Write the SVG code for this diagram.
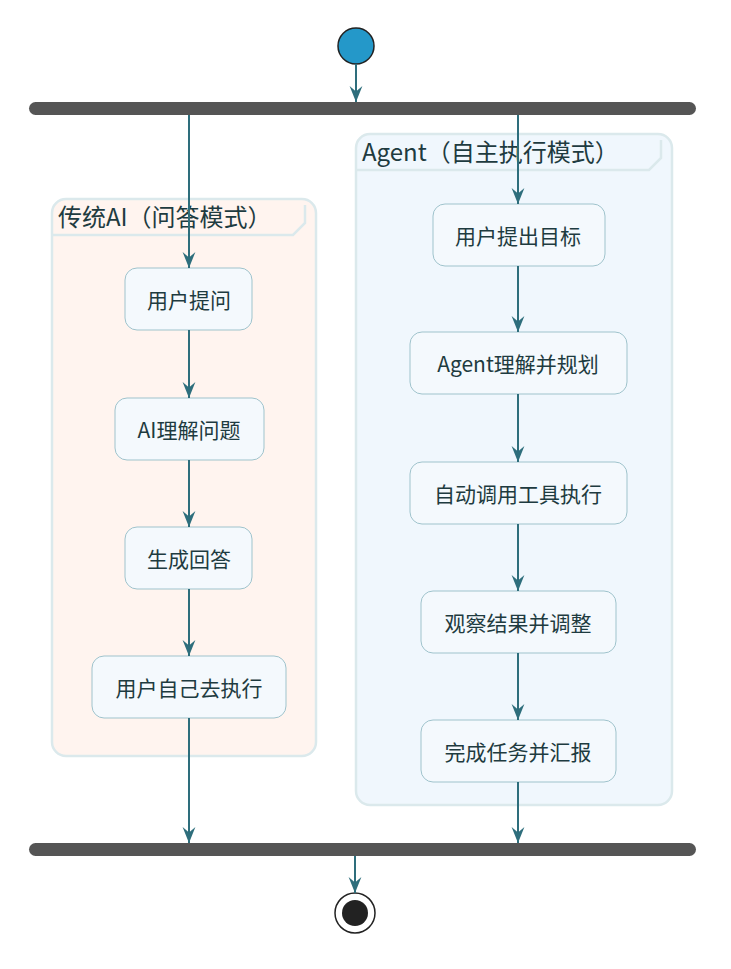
<svg xmlns="http://www.w3.org/2000/svg" width="731" height="969" viewBox="0 0 731 969">
<style>
.bar{fill:#555555}
.node rect{fill:#f4f9fd;stroke:#9fc3cc;stroke-width:1}
.node text,.title{font-family:"Noto Sans CJK SC","Noto Sans",sans-serif;fill:#1e3b40}
.node text{font-size:21px;text-anchor:middle;dominant-baseline:central}
.title{font-size:24px}
.edge{stroke:#2e6e7c;stroke-width:2;fill:none;marker-end:url(#ah2)}
.part{stroke:#dbe9ec;stroke-width:2.5}
</style>
<defs>
<marker id="ah2" markerWidth="16" markerHeight="20" refX="20" refY="8" orient="auto" markerUnits="userSpaceOnUse" viewBox="0 0 20 16">
<path d="M0,0 L20,8 L0,16 L7,8 Z" fill="#2e6e7c"/>
</marker>
</defs>
<g id="part-left">
<rect class="part" x="52" y="199" width="264" height="557" rx="14" fill="#fff4ef"/>
<path class="part" d="M52,235 H293 L305,223 V205" fill="none"/>
<text class="title" x="58" y="226">传统AI（问答模式）</text>
</g>
<g id="part-right">
<rect class="part" x="356" y="134" width="316" height="671" rx="14" fill="#f0f7fd"/>
<path class="part" d="M356,170 H649 L661,158 V140" fill="none"/>
<text class="title" x="362" y="161">Agent（自主执行模式）</text>
</g>
<g id="start"><circle cx="356" cy="46" r="18" fill="#2498c9" stroke="#222" stroke-width="1.5"/></g>
<g id="fork"><rect class="bar" x="29" y="102" width="667" height="13" rx="6.5"/></g>
<g id="join"><rect class="bar" x="29" y="843" width="667" height="13" rx="6.5"/></g>
<g id="end"><circle cx="355" cy="913" r="20" fill="#fff" stroke="#222" stroke-width="1.5"/><circle cx="355" cy="913" r="13" fill="#222"/></g>
<g id="n1" class="node"><rect x="125" y="268" width="127" height="62" rx="12"/><text x="189" y="299">用户提问</text></g>
<g id="n2" class="node"><rect x="115" y="398" width="149" height="62" rx="12"/><text x="189" y="429">AI理解问题</text></g>
<g id="n3" class="node"><rect x="125" y="527" width="127" height="62" rx="12"/><text x="189" y="558">生成回答</text></g>
<g id="n4" class="node"><rect x="92" y="656" width="194" height="62" rx="12"/><text x="189" y="687">用户自己去执行</text></g>
<g id="r1" class="node"><rect x="433" y="204" width="172" height="62" rx="12"/><text x="518" y="235">用户提出目标</text></g>
<g id="r2" class="node"><rect x="410" y="332" width="217" height="62" rx="12"/><text x="518" y="363">Agent理解并规划</text></g>
<g id="r3" class="node"><rect x="410" y="462" width="217" height="62" rx="12"/><text x="518" y="493">自动调用工具执行</text></g>
<g id="r4" class="node"><rect x="421" y="591" width="195" height="62" rx="12"/><text x="518" y="622">观察结果并调整</text></g>
<g id="r5" class="node"><rect x="421" y="720" width="195" height="62" rx="12"/><text x="518" y="751">完成任务并汇报</text></g>
<g id="connectors">
<path class="edge" d="M356,64 V102"/>
<path class="edge" d="M189,115 V268"/>
<path class="edge" d="M189,330 V398"/>
<path class="edge" d="M189,460 V527"/>
<path class="edge" d="M189,589 V656"/>
<path class="edge" d="M189,718 V843"/>
<path class="edge" d="M518,115 V204"/>
<path class="edge" d="M518,266 V332"/>
<path class="edge" d="M518,394 V462"/>
<path class="edge" d="M518,524 V591"/>
<path class="edge" d="M518,653 V720"/>
<path class="edge" d="M518,782 V843"/>
<path class="edge" d="M355,856 V893"/>
</g>
</svg>
